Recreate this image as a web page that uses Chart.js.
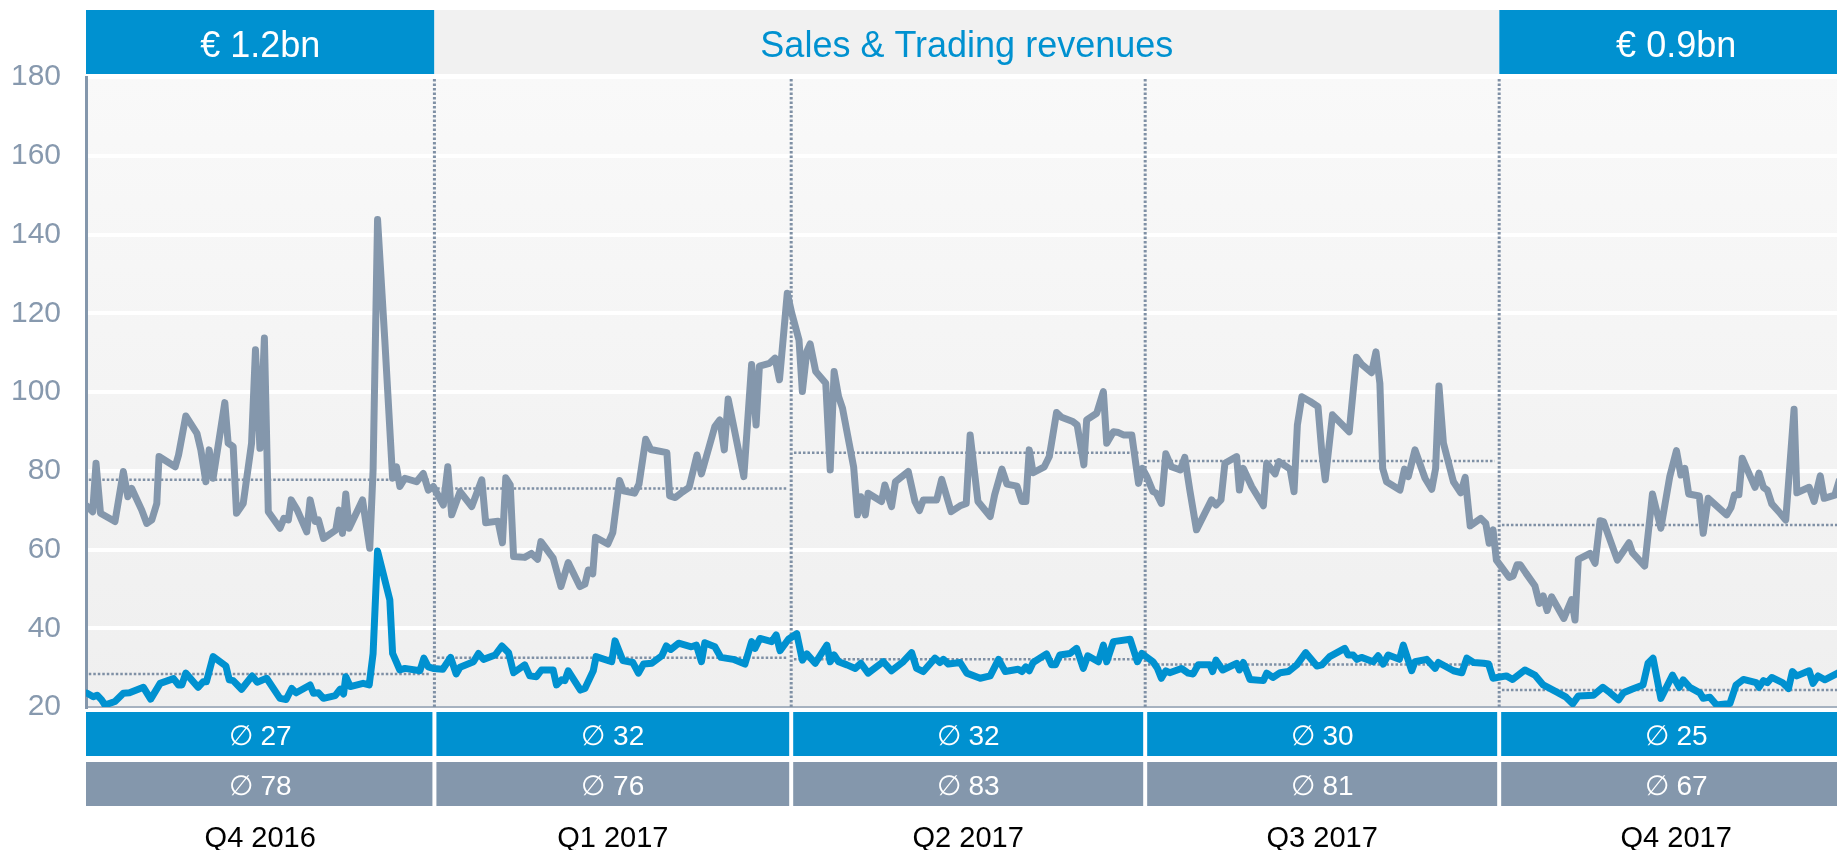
<!DOCTYPE html>
<html>
<head>
<meta charset="utf-8">
<title>Sales & Trading revenues</title>
<script src="https://cdn.jsdelivr.net/npm/chart.js@4"></script>
<style>
  html, body { margin: 0; padding: 0; background: #fff; }
  #chart { display: block; }
</style>
</head>
<body>
<canvas id="chart" width="1837" height="850"></canvas>
<script>
// Quarters, their edges on the trading-day axis, and the labels around the plot
const quarters = ['Q4 2016', 'Q1 2017', 'Q2 2017', 'Q3 2017', 'Q4 2017']
const quarterEdges = [0, 62.5, 126.5, 190, 253.5, 317]
const headerLabels = ['€ 1.2bn', 'Sales & Trading revenues', '€ 0.9bn']

// Quarterly averages (boxes) and where the dotted average lines sit
const blueAvg = [27, 32, 32, 30, 25]
const greyAvg = [78, 76, 83, 81, 67]
const blueAvgLine = [28.4, 32.5, 32.1, 30.8, 24.3]
const greyAvgLine = [77.7, 75.5, 84.6, 82.5, 66.2]

// Grey series: [trading day, value]
const greyQ4_2016 = [[0.2,71],[1.2,69.6],[1.8,81.9],[2.6,69.2],[5.2,67.1],[6.7,79.8],[7.5,73.4],[8.2,75.5],[10,70],[10.9,66.6],[11.8,67.5],[12.7,71.7],[13.1,83.6],[16,81],[16.6,84],[17.9,93.9],[19.9,89.5],[20.6,85.3],[21.5,77.2],[22.1,85.3],[22.8,78.1],[24.9,97.3],[25.5,87],[26.4,86.1],[27,69.2],[28.2,71.7],[29.7,87],[30.4,110.7],[31.2,85.7],[32,113.7],[32.7,69.6],[34.8,65.4],[35.5,67.9],[36.3,67.5],[36.8,72.6],[37.9,70],[39.6,64.5],[40.2,72.6],[41.1,67.1],[41.7,67.5],[42.6,62.8],[44.8,64.9],[45.4,70],[46,64.1],[46.6,74.1],[47.2,65.4],[49.6,72.6],[50.9,60.3],[51.5,80.2],[52.3,143.8],[53.6,113.2],[55,78.1],[55.7,81],[56.3,76],[57.2,78.1],[59.3,77.2],[60.5,79.3],[61.4,75.1],[62.3,76]]
const greyQ1_2017 = [[64.1,71.3],[64.9,81],[65.6,68.8],[67.1,74.7],[69.2,70.9],[71,77.7],[71.7,66.8],[73.9,67.2],[74.7,61.7],[75.3,78.2],[76.1,76.4],[76.7,58.2],[78.7,58],[79.9,59],[81,57.5],[81.6,62],[83.8,57.8],[85.2,50.6],[86.5,56.7],[88.6,50.6],[89.5,51.2],[90.1,54.8],[90.9,53.8],[91.4,63.1],[93.6,61.4],[94.5,64.3],[95.7,77.5],[96.4,74.9],[98.4,74.3],[99.2,76.6],[100.4,88],[101.3,85.4],[104.2,84.6],[104.7,73.6],[105.7,73.2],[106.7,74.3],[108.2,75.8],[109.6,84],[110.4,79.2],[112.8,91.2],[113.7,92.9],[114.5,85.3],[115.2,98.2],[118,78.5],[119.4,107],[120.2,91.6],[120.8,106.6],[122.6,107.3],[123.6,108.6],[124.4,103.1],[125.8,125.1]]
const greyQ2_2017 = [[126.6,120],[127.9,113.2],[128.5,100.1],[129.3,110.3],[129.9,112.2],[130.9,105.2],[132.7,102.2],[133.5,80.2],[134.2,105.2],[135,98.8],[135.7,95.9],[137.7,81],[138.4,68.8],[139,73.4],[139.8,68.8],[140.3,74.3],[142.7,72.2],[143.3,76.4],[144.5,70.9],[145.2,77.2],[147.5,79.8],[148.7,72.2],[149.5,69.9],[150.2,72.6],[152.6,72.6],[153.5,77.8],[155.2,69.6],[156.8,71.1],[157.9,71.7],[158.6,89.1],[160,72.2],[162.2,68.4],[163,73.9],[164.3,80.4],[165.2,76.6],[167,76.1],[167.9,72.2],[168.6,72.2],[169.2,85.3],[169.9,79.5],[171.9,81],[172.8,83.6],[174.1,94.8],[175,93.6],[177,92.5],[177.8,91.6],[179,81.5],[179.5,92.9],[181.3,94.6],[182.5,100.1],[183.1,87],[184.3,89.9],[185.2,89.7],[186.1,89.1],[187.6,89.1],[188.8,76.8],[189.5,80.6]]
const greyQ3_2017 = [[190.3,78.5],[191.4,74.7],[192,74.3],[192.9,71.7],[193.7,84.3],[194.7,81],[196.3,80.2],[197.1,83.4],[198,75.1],[199.2,65],[201.9,72.6],[202.7,71.3],[203.6,72.6],[204.3,81.9],[206.4,83.6],[206.9,75.1],[207.6,80.6],[209.1,76],[211.2,71.1],[211.8,81.9],[213.3,79.2],[214,82.3],[216,80.4],[216.7,74.7],[217.3,91.6],[218.1,98.8],[219.6,97.6],[221,96.3],[221.7,84.5],[222.3,77.7],[223.6,94.2],[226.6,89.9],[227.9,108.8],[228.8,107.1],[230.6,104.9],[231.4,110.2],[232.1,102.2],[232.6,80.6],[233.3,77.2],[235.7,75.1],[236.5,80.4],[237.2,78.5],[238.4,85.3],[240.2,78.1],[241.4,75.3],[242.1,80.6],[242.7,101.5],[243.5,87],[245.3,77.2],[246.6,74.4],[247.4,78.3],[248.3,66],[250.2,67.9],[251.1,66.6],[251.7,61.6],[252.4,65],[253,57.3]]
const greyQ4_2017 = [[253.9,55.6],[255.3,52.9],[256,53.3],[256.7,56.1],[257.3,56.1],[258.3,54],[259.9,50.8],[260.7,46.3],[261.4,48.2],[262.1,44.5],[262.9,48],[265.1,42.5],[266.5,47.3],[267.1,42.1],[267.7,57.5],[269.8,59],[270.7,56.5],[271.6,67.3],[272.2,67.1],[274.7,57.3],[276.8,61.7],[277.4,59.2],[279.6,55.8],[281,74.1],[282.5,65.4],[284.1,78.5],[285.3,85.1],[286.1,78.9],[286.8,80.6],[287.5,74.1],[289.4,73.6],[290.1,64.1],[291,73],[294.3,68.8],[295.1,70.7],[295.7,73.9],[296.5,73.9],[297.1,83.2],[299.4,75.8],[300.1,79.4],[300.9,75.8],[301.6,75.1],[302.4,71.6],[303.9,69.2],[304.9,67.5],[306.4,95.6],[306.9,74.4],[309.1,75.8],[310,72.2],[311.1,78.7],[311.8,73],[313.7,73.8],[314.5,77.5]]

// Blue series: [trading day, value]
const blueQ4_2016 = [[0.2,23.5],[1.3,22.6],[2,23],[2.8,21.8],[3.4,20.5],[5.2,21.4],[6.7,23.5],[7.8,23.6],[10.3,25],[11.6,22],[13.3,26],[15.7,27.2],[16.6,25.6],[17.2,25.6],[17.9,28.6],[20.1,25],[21,26.4],[21.6,26.4],[22.8,32.8],[25.1,30.4],[25.7,26.9],[26.4,26.7],[27.9,24.5],[29.8,27.9],[30.7,26.3],[32.4,27.3],[34.8,22.2],[35.9,21.9],[36.9,24.7],[37.7,23.6],[40.2,25.6],[40.8,23.5],[41.7,23.6],[42.6,22.2],[44.7,22.9],[45.6,24.5],[46.2,23.3],[46.6,27.7],[47.4,25.2],[49.7,26],[50.8,25.6],[51.5,33.6],[52.3,59.6],[54.5,47.2],[55,33.6],[56.3,29.4],[57.2,29.8],[59.9,29.2],[60.6,32.4],[61.4,30.2],[62.3,29.8]]
const blueQ1_2017 = [[64,29.6],[65.4,32.6],[66.4,28.4],[67.1,30.1],[69.5,31.5],[70.4,33.6],[71.3,32.1],[73.4,33.2],[74.6,35.5],[75.8,33.8],[76.7,28.7],[78.7,30.7],[79.6,27.9],[80.8,27.7],[81.7,29.4],[83.8,29.4],[84.4,25.6],[85.3,26.9],[85.9,26.7],[86.5,29.2],[88.7,24.3],[89.5,24.7],[91,29.2],[91.5,32.8],[94.3,31.5],[94.9,36.8],[96.3,31.8],[98.1,31.3],[99.1,28.6],[100,30.9],[101.5,31.1],[103.3,33],[104.1,35.5],[104.9,34.6],[106.3,36.2],[108.6,35.3],[109.5,35.7],[110.4,31.5],[111,36.3],[112.8,35.3],[113.9,32.6],[116.1,32.1],[118.2,30.9],[119.4,36.6],[120,34.9],[120.9,37.4],[123,36.6],[123.8,38.3],[124.5,34.3],[126,37.2]]
const blueQ2_2017 = [[127.5,38.6],[128.5,31.9],[129.3,33.5],[130.8,31.1],[132.9,35.7],[133.5,31.5],[134.2,33.2],[135,31.5],[136.5,30.7],[138,29.8],[139,31.1],[140.3,28.6],[143,31.5],[144.5,29.2],[146.6,31.5],[148.1,33.8],[149,29.8],[150.2,29],[152.3,32.4],[153.2,31.3],[153.8,32.1],[154.7,30.9],[156.8,31.3],[158,28.6],[160.4,27.3],[162.2,27.9],[163.7,32.1],[164.9,29],[167.2,29.6],[167.9,29],[168.6,30.2],[169.2,29.2],[169.9,31.3],[172.3,33.5],[173.2,30.7],[173.9,30.7],[174.7,33.2],[176.5,33.6],[177.7,34.9],[178.9,29.8],[179.7,33],[181.6,31.5],[182.5,35.7],[183.1,31.5],[184.3,36.6],[187.3,37.2],[188.6,31.5],[189.4,33.6]]
const blueQ3_2017 = [[191.4,31.5],[192.2,29.8],[192.9,27.3],[193.7,29.2],[194.4,28.7],[196.5,29.8],[197.7,28.6],[198.6,28.4],[199.5,30.7],[201.6,30.7],[202.1,29],[202.7,31.9],[203.9,29.4],[206.4,31.1],[206.9,29.4],[207.6,31.3],[208.8,27],[211.2,26.7],[211.8,28.6],[212.9,27.5],[214.2,28.7],[215.7,29],[217.2,30.7],[218.8,33.8],[220.8,30.4],[221.7,30.7],[223.1,32.8],[225.8,34.9],[226.4,33.2],[227.3,33.2],[228,32.1],[228.8,32.6],[230.9,31.5],[231.8,33],[232.7,30.9],[233.6,33.2],[235.6,32.1],[236.3,35.7],[237.8,29.2],[238.4,31.5],[240.5,32.1],[242,29.8],[242.6,31.3],[245.3,29.2],[246.8,28.7],[247.7,32.4],[248.9,31.3],[250.7,31.1],[251.6,30.9],[252.4,27.3]]
const blueQ4_2017 = [[254.8,27.9],[255.9,27],[258.1,29.4],[259.9,28.1],[261.4,25.6],[264.1,23.6],[265.5,22.5],[266.7,20.8],[267.7,22.8],[270.4,23],[272.1,25],[273.4,23.6],[274.9,21.8],[275.8,23.6],[277.3,24.5],[279.3,25.6],[280.2,31.1],[281.1,32.4],[282.5,22.2],[284.6,28.1],[285.8,25],[286.5,26.9],[287.7,25],[289.5,23.6],[290.1,22.2],[291.3,22.5],[292.5,20.5],[294.9,20.9],[296,25.6],[297.3,27],[299.6,26.2],[300.1,25],[300.9,26.7],[301.6,26.2],[302.4,27.5],[304.3,26.2],[305.4,24.7],[306.1,29],[306.9,27.9],[309.1,29.2],[309.8,26],[310.7,27.9],[311.9,26.9],[314.5,28.8]]

const BLUE = '#0091D0'
const GREY = '#8497AC'
const DOT = '#7F90A5'
const FONT = '"Liberation Sans", Arial, sans-serif'

const toPoints = rows => rows.map(([x, y]) => ({ x, y }))
const greyData = toPoints([].concat(greyQ4_2016, greyQ1_2017, greyQ2_2017, greyQ3_2017, greyQ4_2017))
const blueData = toPoints([].concat(blueQ4_2016, blueQ1_2017, blueQ2_2017, blueQ3_2017, blueQ4_2017))

// dotted helper lines: quarter averages and quarter separators
const dotted = (data, width) => ({
  data,
  order: 3,
  borderColor: DOT,
  borderWidth: width,
  borderDash: [2.5, 2],
  pointRadius: 0,
  fill: false
})
const avgSets = []
quarters.forEach((q, i) => {
  const from = quarterEdges[i] + 0.5
  const to = quarterEdges[i + 1] - 0.8
  avgSets.push(dotted([{ x: from, y: greyAvgLine[i] }, { x: to, y: greyAvgLine[i] }], 2.5))
  avgSets.push(dotted([{ x: from, y: blueAvgLine[i] }, { x: to, y: blueAvgLine[i] }], 2.5))
})
const separatorSets = quarterEdges.slice(1, 5).map(e => dotted([{ x: e, y: 179.5 }, { x: e, y: 20 }], 3))

// plot background: soft vertical gradient
const backgroundPlugin = {
  id: 'plotBackground',
  beforeDraw(chart) {
    const { ctx, chartArea: a } = chart
    const g = ctx.createLinearGradient(0, a.top, 0, a.bottom)
    g.addColorStop(0, '#F9F9F9')
    g.addColorStop(1, '#EFEFEF')
    ctx.save()
    ctx.fillStyle = g
    ctx.fillRect(a.left, a.top - 1, a.right - a.left, a.bottom - a.top + 1)
    ctx.restore()
  }
}

// header band, average boxes and quarter names
const framePlugin = {
  id: 'frame',
  afterDraw(chart) {
    const { ctx, scales: { x } } = chart
    const edge = quarterEdges.map(v => x.getPixelForValue(v))
    ctx.save()
    ctx.textAlign = 'center'
    ctx.textBaseline = 'alphabetic'

    ctx.fillStyle = BLUE
    ctx.fillRect(edge[0], 10, edge[1] - edge[0], 64)
    ctx.fillRect(edge[4], 10, edge[5] - edge[4], 64)
    ctx.fillStyle = '#F1F1F1'
    ctx.fillRect(edge[1], 10, edge[4] - edge[1], 64)

    ctx.font = '36px ' + FONT
    ctx.fillStyle = '#fff'
    ctx.fillText(headerLabels[0], (edge[0] + edge[1]) / 2, 57)
    ctx.fillText(headerLabels[2], (edge[4] + edge[5]) / 2, 57)
    ctx.fillStyle = BLUE
    ctx.fillText(headerLabels[1], (edge[1] + edge[4]) / 2, 57)

    quarters.forEach((q, i) => {
      const l = i === 0 ? edge[0] : edge[i] + 2
      const r = edge[i + 1] - 2
      const c = (edge[i] + edge[i + 1]) / 2
      ctx.fillStyle = BLUE
      ctx.fillRect(l, 712, r - l, 44)
      ctx.fillStyle = GREY
      ctx.fillRect(l, 762, r - l, 44)

      ctx.font = '28px ' + FONT
      ctx.fillStyle = '#fff'
      ctx.fillText('\u2205 ' + blueAvg[i], c, 745)
      ctx.fillText('\u2205 ' + greyAvg[i], c, 795)

      ctx.font = '29px ' + FONT
      ctx.fillStyle = '#000'
      ctx.fillText(q, c, 847)
    })
    ctx.restore()
  }
}

new Chart(document.getElementById('chart'), {
  type: 'line',
  data: {
    datasets: [
      {
        label: 'blue',
        data: blueData,
        borderColor: BLUE,
        borderWidth: 7,
        borderJoinStyle: 'round',
        borderCapStyle: 'round',
        pointRadius: 0,
        order: 0
      },
      {
        label: 'grey',
        data: greyData,
        borderColor: GREY,
        borderWidth: 7,
        borderJoinStyle: 'round',
        borderCapStyle: 'round',
        pointRadius: 0,
        order: 1
      },
      ...avgSets,
      ...separatorSets
    ]
  },
  options: {
    responsive: false,
    devicePixelRatio: 1,
    animation: false,
    layout: { padding: { top: 77, bottom: 143, left: 0, right: 0 } },
    plugins: {
      legend: { display: false },
      tooltip: { enabled: false }
    },
    scales: {
      x: {
        type: 'linear',
        min: 0,
        max: 314.1,
        ticks: { display: false },
        grid: { display: false },
        border: { display: true, color: '#A6B2C0', width: 2 },
        afterFit: s => { s.height = 0 }
      },
      y: {
        min: 20,
        max: 180,
        ticks: {
          stepSize: 20,
          padding: 25,
          color: '#8799AE',
          font: { family: FONT, size: 30 }
        },
        grid: {
          drawTicks: false,
          lineWidth: 4,
          color: c => (c.tick && c.tick.value === 20) ? 'rgba(0,0,0,0)' : '#FFFFFF'
        },
        border: { display: true, color: GREY, width: 3 },
        afterFit: s => { s.width = 86 }
      }
    }
  },
  plugins: [backgroundPlugin, framePlugin]
})
</script>
</body>
</html>
